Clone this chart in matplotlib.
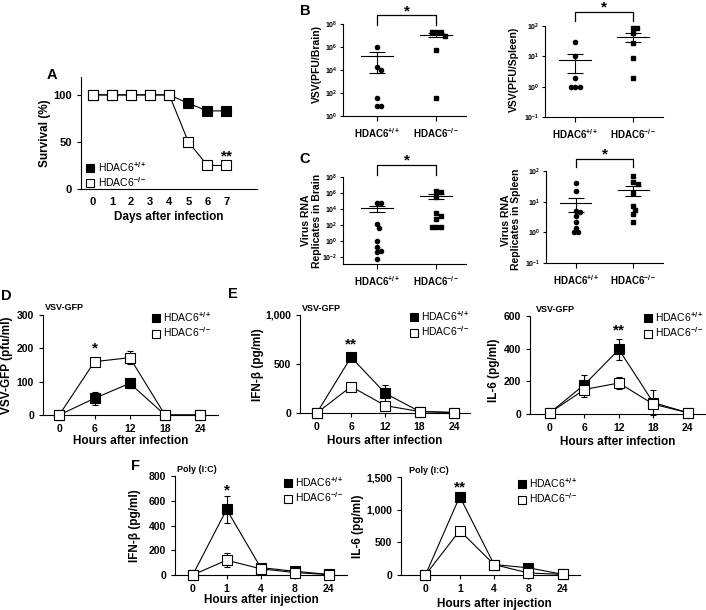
import numpy as np
import matplotlib
matplotlib.use('Agg')
import matplotlib.pyplot as plt
import matplotlib.transforms as mtransforms
from matplotlib.lines import Line2D
from matplotlib.ticker import FuncFormatter, NullLocator

plt.rcParams['font.family'] = ['Liberation Sans', 'DejaVu Sans']
plt.rcParams['font.weight'] = 'bold'
plt.rcParams['axes.labelweight'] = 'bold'
plt.rcParams['mathtext.fontset'] = 'custom'
plt.rcParams['mathtext.rm'] = 'Liberation Sans'
plt.rcParams['mathtext.bf'] = 'Liberation Sans:bold'
plt.rcParams['mathtext.it'] = 'Liberation Sans:italic'
plt.rcParams['axes.linewidth'] = 0.8
plt.rcParams['xtick.major.width'] = 0.8
plt.rcParams['ytick.major.width'] = 0.8
plt.rcParams['xtick.major.size'] = 3
plt.rcParams['ytick.major.size'] = 3

# ---- data ----
days = [0, 1, 2, 3, 4, 5, 6, 7]
surv_wt = [100, 100, 100, 100, 100, 91, 83, 83]
surv_ko = [100, 100, 100, 100, 100, 50, 25, 25]

groups = [r'$\mathbf{HDAC6^{+/+}}$', r'$\mathbf{HDAC6^{-/-}}$']
legend_labels = [r'HDAC6$^{+/+}$', r'HDAC6$^{-/-}$']

vsv_brain_wt = [1e6, 2e4, 1e4, 40, 8, 8]
vsv_brain_ko = [2e7, 2e7, 2e7, 1e7, 6e5, 40]
vsv_spleen_wt = [30, 10, 2, 1, 1, 1]
vsv_spleen_ko = [85, 85, 60, 28, 9, 2]
rna_brain_wt = [5e4, 6e4, 130, 40, 1, 0.15, 0.05, 0.04, 0.006]
rna_brain_ko = [2e6, 1.5e6, 3e5, 3e3, 1.5e3, 500, 60, 60, 60]
rna_spleen_wt = [40, 22, 5, 4.5, 3.5, 2.2, 1.4, 1.0, 1.0]
rna_spleen_ko = [69, 45, 37, 19, 7.3, 5.4, 4, 2.1]

hours_inf = ['0', '6', '12', '18', '24']
hours_inj = ['0', '1', '4', '8', '24']

vsv_wt = [0, 50, 95, 0, 0]
vsv_wt_err = [0, 20, 15, 0, 0]
vsv_ko = [0, 160, 172, 0, 0]
vsv_ko_err = [0, 6, 20, 0, 0]

ifn_inf_wt = [0, 570, 200, 15, 5]
ifn_inf_wt_err = [0, 25, 90, 5, 0]
ifn_inf_ko = [0, 270, 75, 15, 5]
ifn_inf_ko_err = [0, 20, 25, 5, 0]

il6_inf_wt = [8, 180, 395, 70, 8]
il6_inf_wt_err = [0, 60, 67, 78, 0]
il6_inf_ko = [8, 150, 190, 60, 8]
il6_inf_ko_err = [0, 45, 35, 20, 0]

ifn_pic_wt = [0, 530, 60, 30, 5]
ifn_pic_wt_err = [0, 110, 10, 5, 0]
ifn_pic_ko = [0, 120, 50, 20, 3]
ifn_pic_ko_err = [0, 55, 10, 5, 0]

il6_pic_wt = [0, 1200, 160, 110, 10]
il6_pic_wt_err = [0, 30, 20, 40, 0]
il6_pic_ko = [0, 680, 160, 30, 10]
il6_pic_ko_err = [0, 30, 20, 10, 0]

W, H = 706, 610
fig = plt.figure(figsize=(W / 100, H / 100), dpi=100)


def px_axes(left, top, right, bottom):
    ax = fig.add_axes([left / W, 1 - bottom / H, (right - left) / W, (bottom - top) / H])
    ax.spines['top'].set_visible(False)
    ax.spines['right'].set_visible(False)
    return ax


def panel_letter(x, y, s):
    fig.text(x / W, 1 - y / H, s, fontsize=10.5, fontweight='bold', ha='center', va='center')


def add_legend(ax, x, y, ms=5.5):
    handles = [Line2D([], [], marker='s', ls='none', mfc='black', mec='black', ms=ms, mew=0.8),
               Line2D([], [], marker='s', ls='none', mfc='white', mec='black', ms=ms, mew=0.8)]
    ax.legend(handles, legend_labels, loc='upper left', bbox_to_anchor=(x, y), frameon=False,
              prop={'size': 7.5, 'weight': 'normal'}, handlelength=0.8, handletextpad=0.3,
              borderpad=0, borderaxespad=0, labelspacing=0.15)


def star(ax, x, y, s, size=11):
    ax.annotate(s, (x, y), xytext=(0, -3), textcoords='offset points', ha='center', va='center',
                fontsize=size, fontweight='bold', annotation_clip=False)


# ---- A: survival ----
axA = px_axes(81, 77, 257, 189)
axA.plot(days, surv_wt, '-s', color='black', mfc='black', mec='black', ms=7, lw=0.8, mew=0.8, clip_on=False, zorder=3)
axA.plot(days, surv_ko, '-s', color='black', mfc='white', mec='black', ms=7, lw=0.8, mew=0.8, clip_on=False, zorder=4)
axA.set_xlim(-0.63, 8.6)
axA.set_ylim(0, 119)
axA.set_xticks(days)
axA.set_yticks([0, 50, 100])
axA.tick_params(axis='x', length=0, pad=6, labelsize=8)
axA.tick_params(axis='y', labelsize=8)
axA.set_ylabel('Survival (%)', fontsize=8.5)
axA.yaxis.set_label_coords(-0.17, 0.5)
axA.set_xlabel('Days after infection', fontsize=8.5)
axA.xaxis.set_label_coords(0.5, -0.2)
add_legend(axA, 0.03, 0.26, ms=6)
star(axA, 7, 39, '**')
panel_letter(52, 75, 'A')


# ---- B / C: dot plots ----
def swarm(ax, xc, vals, d=4.5):
    pts = ax.transData.transform(np.column_stack([np.full(len(vals), xc), vals]))
    out = pts.copy()
    placed = []
    for idx in np.argsort(-vals):
        px, py = pts[idx]
        for k in [0, 0.5, -0.5, 1, -1, 1.5, -1.5, 2, -2]:
            cx = px + k * d
            if all((cx - qx) ** 2 + (py - qy) ** 2 >= d ** 2 for qx, qy in placed):
                break
        placed.append((cx, py))
        out[idx, 0] = cx
    return ax.transData.inverted().transform(out)[:, 0]


def dot_panel(box, wt, ko, ylim, exps, ylabel, ylab_xy, xlim, brk):
    ax = px_axes(*box)
    ax.set_yscale('log')
    ax.set_xlim(*xlim)
    ax.set_ylim(*ylim)
    for i, (vals, mk) in enumerate([(wt, 'o'), (ko, 's')]):
        vals = np.asarray(vals, float)
        xs = swarm(ax, i, vals)
        ax.plot(xs, vals, ls='none', marker=mk, ms=3, color='black', clip_on=False)
        m = vals.mean()
        s = vals.std(ddof=1) / np.sqrt(len(vals))
        ax.plot([i - 0.27, i + 0.27], [m, m], color='black', lw=0.8)
        lo = min(s, m * 0.999)
        ax.errorbar(i, m, yerr=[[lo], [s]], fmt='none', ecolor='black', elinewidth=0.8, capsize=5.5, capthick=0.8)
    ax.set_yticks([10.0 ** e for e in exps])
    ax.yaxis.set_minor_locator(NullLocator())
    ax.yaxis.set_major_formatter(FuncFormatter(lambda v, p: r'$\mathbf{10^{%d}}$' % round(np.log10(v))))
    ax.tick_params(axis='y', labelsize=5, length=2.5, pad=1.5)
    ax.set_xticks([0, 1])
    ax.set_xticklabels(groups)
    ax.tick_params(axis='x', labelsize=7, length=3.5, pad=4)
    ax.set_ylabel(ylabel, fontsize=7.5, linespacing=1.1)
    ax.yaxis.set_label_coords(*ylab_xy)
    yh, ye, ys = brk
    tr = mtransforms.blended_transform_factory(ax.transData, ax.transAxes)
    ax.plot([0, 0, 1, 1], [ye, yh, yh, ye], transform=tr, color='black', lw=0.9, clip_on=False)
    ax.text(0.5, ys, '*', transform=tr, ha='center', va='center', fontsize=11, fontweight='bold')
    return ax


dot_panel((343, 24, 466, 116), vsv_brain_wt, vsv_brain_ko, (1, 1e8), [0, 2, 4, 6, 8],
          'VSV(PFU/Brain)', (-0.17, 0.57), (-0.57, 1.5), (1.098, 0.99, 1.14))
dot_panel((545, 26, 663, 117), vsv_spleen_wt, vsv_spleen_ko, (0.1, 100), [-1, 0, 1, 2],
          'VSV(PFU/Spleen)', (-0.22, 0.52), (-0.52, 1.52), (1.154, 1.055, 1.2))
dot_panel((343, 177, 466, 264), rna_brain_wt, rna_brain_ko, (10 ** -2.9, 1e8), [-2, 0, 2, 4, 6, 8],
          'Virus RNA\nReplicates in Brain', (-0.17, 0.5), (-0.57, 1.5), (1.138, 1.023, 1.19))
dot_panel((546, 171, 663, 263), rna_spleen_wt, rna_spleen_ko, (0.1, 100), [-1, 0, 1, 2],
          'Virus RNA\nReplicates in Spleen', (-0.21, 0.47), (-0.52, 1.52), (1.13, 1.043, 1.18))
panel_letter(305, 11, 'B')
panel_letter(305, 159, 'C')


# ---- D / E / F: time courses ----
def line_panel(box, labels, wt, wt_err, ko, ko_err, ylim, yticks, xlim, ylabel, ylab_xy,
               xlabel, xlab_xy, tag, tag_x, leg_xy, comma=False):
    ax = px_axes(*box)
    x = np.arange(len(labels))
    kw = dict(fmt='-s', color='black', ecolor='black', mec='black', ms=6.8, lw=0.8, mew=0.8,
              elinewidth=0.8, capsize=2, capthick=0.8, clip_on=False)
    ax.errorbar(x, wt, yerr=wt_err, mfc='black', zorder=3, **kw)
    ax.errorbar(x, ko, yerr=ko_err, mfc='white', zorder=4, **kw)
    ax.set_xlim(*xlim)
    ax.set_ylim(*ylim)
    ax.set_xticks(x)
    ax.set_xticklabels(labels)
    ax.set_yticks(yticks)
    if comma:
        ax.yaxis.set_major_formatter(FuncFormatter(lambda v, p: f'{v:,.0f}'))
    ax.tick_params(labelsize=7.5)
    ax.set_ylabel(ylabel, fontsize=8.5)
    ax.yaxis.set_label_coords(*ylab_xy)
    ax.set_xlabel(xlabel, fontsize=8.5)
    ax.xaxis.set_label_coords(*xlab_xy)
    ax.text(tag_x, 1.07, tag, transform=ax.transAxes, ha='left', va='center', fontsize=6.5, fontweight='bold')
    add_legend(ax, *leg_xy)
    return ax


axD = line_panel((43, 315, 218, 415), hours_inf, vsv_wt, vsv_wt_err, vsv_ko, vsv_ko_err,
                 (0, 300), [0, 100, 200, 300], (-0.46, 4.5), 'VSV-GFP (pfu/ml)', (-0.17, 0.5),
                 'Hours after infection', (0.5, -0.2), 'VSV-GFP', 0.01, (0.62, 1.05))
star(axD, 1, 212, '*')
axE1 = line_panel((300, 315, 470, 413), hours_inf, ifn_inf_wt, ifn_inf_wt_err, ifn_inf_ko, ifn_inf_ko_err,
                  (0, 1000), [0, 500, 1000], (-0.49, 4.47), 'IFN-β (pg/ml)', (-0.21, 0.49),
                  'Hours after infection', (0.5, -0.22), 'VSV-GFP', 0.012, (0.645, 1.06), comma=True)
star(axE1, 1, 744, '**')
axE2 = line_panel((530, 316, 705, 414), hours_inf, il6_inf_wt, il6_inf_wt_err, il6_inf_ko, il6_inf_ko_err,
                  (0, 600), [0, 200, 400, 600], (-0.58, 4.5), 'IL-6 (pg/ml)', (-0.17, 0.45),
                  'Hours after infection', (0.5, -0.22), 'VSV-GFP', 0.034, (0.65, 1.06))
star(axE2, 2, 539, '**')
axF1 = line_panel((175, 476, 347, 575), hours_inj, ifn_pic_wt, ifn_pic_wt_err, ifn_pic_ko, ifn_pic_ko_err,
                  (0, 800), [0, 200, 400, 600, 800], (-0.52, 4.54), 'IFN-β (pg/ml)', (-0.2, 0.5),
                  'Hours after injection', (0.5, -0.19), 'Poly (I:C)', 0.01, (0.63, 1.01))
star(axF1, 1, 717, '*')
axF2 = line_panel((401, 477, 580, 575), hours_inj, il6_pic_wt, il6_pic_wt_err, il6_pic_ko, il6_pic_ko_err,
                  (0, 1500), [0, 500, 1000, 1500], (-0.71, 4.5), 'IL-6 (pg/ml)', (-0.205, 0.5),
                  'Hours after injection', (0.52, -0.23), 'Poly (I:C)', 0.045, (0.65, 1.01), comma=True)
star(axF2, 1, 1402, '**')

panel_letter(6, 296, 'D')
panel_letter(233, 294, 'E')
panel_letter(136, 466, 'F')

fig.savefig('out.png', dpi=100, facecolor='white')
